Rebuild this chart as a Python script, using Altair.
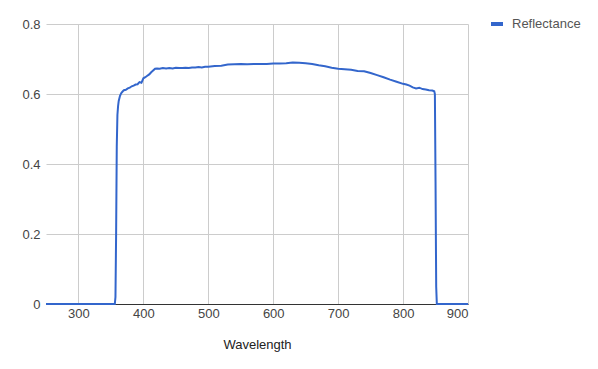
import altair as alt
import pandas as pd

wavelength = [250, 300, 356, 357, 358, 359, 360, 361, 362, 364, 366, 368, 370, 373, 376, 379,
              382, 385, 388, 391, 394, 397, 400, 403, 406, 409, 412, 415, 418, 421, 425, 430,
              435, 440, 445, 450, 455, 460, 465, 470, 475, 480, 485, 490, 495, 500, 510, 520,
              530, 540, 550, 560, 570, 580, 590, 600, 610, 620, 630, 640, 650, 660, 670, 680,
              690, 700, 710, 720, 730, 740, 750, 760, 770, 780, 790, 800, 805, 810, 815, 820,
              825, 830, 835, 840, 845, 848, 849, 850, 851, 852, 900]
reflectance = [0, 0, 0, 0.02, 0.2, 0.45, 0.54, 0.565, 0.58, 0.595, 0.603, 0.607, 0.611, 0.612,
               0.616, 0.618, 0.622, 0.624, 0.627, 0.628, 0.634, 0.632, 0.645, 0.648, 0.652,
               0.656, 0.662, 0.667, 0.672, 0.673, 0.672, 0.674, 0.673, 0.674, 0.673, 0.675,
               0.674, 0.674, 0.675, 0.674, 0.676, 0.676, 0.677, 0.676, 0.678, 0.678, 0.680,
               0.681, 0.684, 0.685, 0.686, 0.685, 0.686, 0.686, 0.686, 0.687, 0.687, 0.688,
               0.690, 0.689, 0.688, 0.686, 0.682, 0.679, 0.675, 0.672, 0.671, 0.669, 0.666,
               0.665, 0.660, 0.654, 0.648, 0.641, 0.635, 0.629, 0.627, 0.624, 0.619, 0.616,
               0.618, 0.614, 0.613, 0.611, 0.610, 0.608, 0.600, 0.35, 0.05, 0, 0]
series_name = "Reflectance"
x_ticks = [300, 400, 500, 600, 700, 800, 900]
y_ticks = [0, 0.2, 0.4, 0.6, 0.8]

df = pd.DataFrame({"Wavelength": wavelength, "Reflectance": reflectance,
                   "series": [series_name] * len(wavelength)})

FONT = "Liberation Sans"

chart = alt.Chart(df).mark_line(strokeWidth=2, interpolate="linear").encode(
    x=alt.X("Wavelength:Q",
            scale=alt.Scale(domain=[250, 900], nice=False, zero=False),
            axis=alt.Axis(values=x_ticks, title="Wavelength", grid=True, gridColor="#cccccc",
                          domain=True, domainColor="#333333", ticks=False, tickSize=0,
                          labelPadding=3, labelFont=FONT, labelFontSize=13, labelColor="#444444",
                          titleFont=FONT, titleFontSize=13, titleFontWeight="normal",
                          titleColor="#222222", titlePadding=18)),
    y=alt.Y("Reflectance:Q",
            scale=alt.Scale(domain=[0, 0.8], nice=False),
            axis=alt.Axis(values=y_ticks, title=None, grid=True, gridColor="#cccccc",
                          domain=False, ticks=False, tickSize=0, labelPadding=6,
                          labelFont=FONT, labelFontSize=13, labelColor="#444444",
                          format="~g")),
    color=alt.Color("series:N", scale=alt.Scale(range=["#3366cc"]),
                    legend=alt.Legend(title=None, orient="none", legendX=443, legendY=-8,
                                      symbolType="stroke", symbolStrokeWidth=4, symbolSize=144,
                                      labelFont=FONT, labelFontSize=13, labelColor="#555555",
                                      labelOffset=7)),
).properties(
    width=422, height=280,
    autosize=alt.AutoSizeParams(type="none"),
    padding={"left": 38, "top": 16, "right": 120, "bottom": 50},
).configure_view(stroke=None)

chart.save("out.html", embed_options={"renderer": "svg", "actions": False})
